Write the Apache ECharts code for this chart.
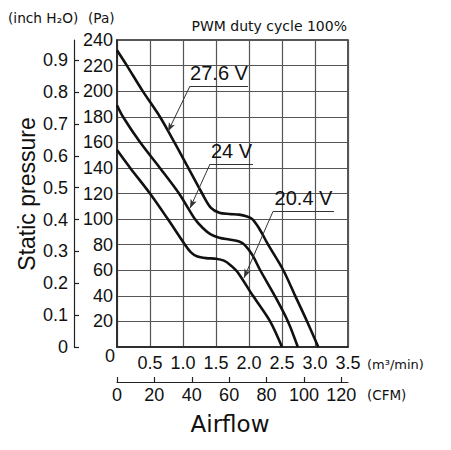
<!DOCTYPE html>
<html>
<head>
<meta charset="utf-8">
<script src="https://cdn.jsdelivr.net/npm/echarts@6/dist/echarts.min.js"></script>
<style>
html, body { margin: 0; padding: 0; background: #fff; }
#chart { width: 451px; height: 450px; }
</style>
</head>
<body>
<div id="chart"></div>
<script>
// airflow (m3/min) and static pressure (Pa)
const flow276 = [0, 0.15, 0.39, 0.65, 0.87, 1.08, 1.29, 1.42, 1.55, 1.7, 1.85, 1.97, 2.05, 2.15, 2.29, 2.52, 2.7, 2.88, 3.05];
const pa276   = [232, 220, 200, 180, 160, 140, 120, 109, 105, 104, 103.5, 102, 100, 93, 80, 60, 40, 20, 0];

const flow240 = [0, 0.09, 0.35, 0.65, 0.94, 1.18, 1.3, 1.42, 1.55, 1.7, 1.85, 1.93, 2.05, 2.17, 2.39, 2.59, 2.74];
const pa240   = [189, 180, 160, 140, 120, 100, 93, 88, 85.5, 84, 82.5, 80, 72, 60, 40, 20, 0];

const flow204 = [0, 0.2, 0.5, 0.77, 1.03, 1.12, 1.21, 1.35, 1.5, 1.62, 1.72, 1.82, 2.06, 2.32, 2.5];
const pa204   = [154, 140, 120, 100, 80, 74, 71, 69.5, 69, 67.5, 64, 59, 40, 20, 0];

const voltages = ['27.6 V', '24 V', '20.4 V'];

// secondary scales
const cfmTicks = [0, 20, 40, 60, 80, 100, 120];
const inchTicks = [0, 0.1, 0.2, 0.3, 0.4, 0.5, 0.6, 0.7, 0.8, 0.9];
const M3_TO_CFM = 35.3147;
const PA_PER_INH2O = 249.09;

const TICK_FONT = '"Liberation Sans", Arial, sans-serif';
const SANS = '"Liberation Sans", Arial, sans-serif';
const DEJA = '"DejaVu Sans", sans-serif';

function pairs(xs, ys) {
  return xs.map((x, i) => [x, ys[i]]);
}

// leader line + label for each curve
function leader(text, hx0, hx1, hy, tx, ty) {
  return {
    silent: true,
    animation: false,
    symbol: ['none', 'none'],
    lineStyle: { color: '#333', width: 1, type: 'solid' },
    label: { show: false },
    emphasis: { disabled: true },
    data: [
      [
        { coord: [hx0, hy], label: { show: true, position: 'insideMiddleTop', distance: 3, formatter: text, fontSize: 20, fontFamily: SANS, color: '#111' } },
        { coord: [hx1, hy] }
      ],
      [
        { coord: [hx0, hy], symbol: 'none' },
        { coord: [tx, ty], symbol: 'arrow', symbolSize: [5, 9] }
      ]
    ]
  };
}

function curve(name, xs, ys, ml) {
  return {
    name: name,
    type: 'line',
    xAxisIndex: 0,
    yAxisIndex: 0,
    data: pairs(xs, ys),
    showSymbol: false,
    symbol: 'none',
    smooth: 0.3,
    lineStyle: { color: '#111', width: 2.6 },
    markLine: ml
  };
}

const chart = echarts.init(document.getElementById('chart'), null, { renderer: 'svg' });
chart.setOption({
  animation: false,
  backgroundColor: '#fff',
  grid: {
    left: 117, top: 40, width: 231, height: 307,
    show: true, borderColor: '#222', borderWidth: 1.5, backgroundColor: 'transparent'
  },
  xAxis: [
    {
      type: 'value', min: 0, max: 3.5, interval: 0.5, position: 'bottom',
      axisLine: { show: true, onZero: false, lineStyle: { color: '#222', width: 1.5 } },
      axisTick: { show: false },
      splitLine: { show: true, lineStyle: { color: '#555', width: 1.2 } },
      axisLabel: {
        showMinLabel: false, margin: 7, fontSize: 18, fontFamily: TICK_FONT, color: '#111',
        formatter: v => v.toFixed(1)
      }
    },
    {
      type: 'value', min: 0, max: 3.5 * M3_TO_CFM, position: 'bottom', offset: 35,
      axisLine: { show: true, onZero: false, lineStyle: { color: '#222', width: 1.2 } },
      axisTick: { show: true, inside: true, length: 5, customValues: cfmTicks, lineStyle: { color: '#222', width: 1.2 } },
      splitLine: { show: false },
      axisLabel: { customValues: cfmTicks, margin: 4, fontSize: 18, fontFamily: TICK_FONT, color: '#111' }
    }
  ],
  yAxis: [
    {
      type: 'value', min: 0, max: 240, interval: 20, position: 'left',
      axisLine: { show: true, onZero: false, lineStyle: { color: '#222', width: 1.5 } },
      axisTick: { show: false },
      splitLine: { show: true, lineStyle: { color: '#555', width: 1.2 } },
      axisLabel: { showMinLabel: false, margin: 4, fontSize: 18, fontFamily: TICK_FONT, color: '#111' }
    },
    {
      type: 'value', min: 0, max: 240 / PA_PER_INH2O, position: 'left', offset: 43,
      axisLine: { show: true, onZero: false, lineStyle: { color: '#222', width: 1.2 } },
      axisTick: { show: true, inside: true, length: 5, customValues: inchTicks, lineStyle: { color: '#222', width: 1.2 } },
      splitLine: { show: false },
      axisLabel: {
        customValues: inchTicks, margin: 6, fontSize: 18, fontFamily: TICK_FONT, color: '#111',
        formatter: v => (v === 0 ? '0' : v.toFixed(1))
      }
    }
  ],
  graphic: [
    { type: 'text', x: 110, y: 356, style: { text: '0', align: 'center', verticalAlign: 'middle', font: '18px ' + TICK_FONT, fill: '#111' } },
    { type: 'text', x: 8, y: 18, style: { text: '(inch H\u2082O)', align: 'left', verticalAlign: 'middle', font: '13.7px ' + DEJA, fill: '#111' } },
    { type: 'text', x: 88, y: 18, style: { text: '(Pa)', align: 'left', verticalAlign: 'middle', font: '13.7px ' + DEJA, fill: '#111' } },
    { type: 'text', x: 347, y: 26, style: { text: 'PWM duty cycle 100%', align: 'right', verticalAlign: 'middle', font: '14px ' + DEJA, fill: '#111' } },
    { type: 'text', x: 27, y: 194, rotation: Math.PI / 2, style: { text: 'Static pressure', align: 'center', verticalAlign: 'middle', font: '23px ' + SANS, fill: '#111' } },
    { type: 'text', x: 230, y: 424, style: { text: 'Airflow', align: 'center', verticalAlign: 'middle', font: '23px ' + DEJA, fill: '#111' } },
    { type: 'text', x: 367, y: 364, style: { text: '(m\u00b3/min)', align: 'left', verticalAlign: 'middle', font: '13px ' + DEJA, fill: '#111' } },
    { type: 'text', x: 367, y: 395, style: { text: '(CFM)', align: 'left', verticalAlign: 'middle', font: '13.5px ' + DEJA, fill: '#111' } }
  ],
  series: [
    curve(voltages[0], flow276, pa276, leader(voltages[0], 1.106, 1.985, 204, 0.773, 168.5)),
    curve(voltages[1], flow240, pa240, leader(voltages[1], 1.409, 2.06, 143, 1.106, 108.5)),
    curve(voltages[2], flow204, pa204, leader(voltages[2], 2.364, 3.288, 106, 1.924, 54))
  ]
});
</script>
</body>
</html>
